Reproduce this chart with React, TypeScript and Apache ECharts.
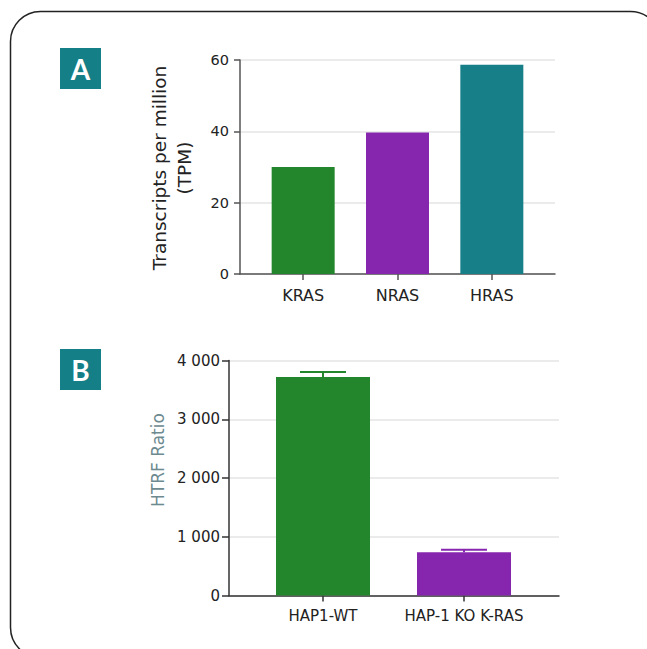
import React, { useEffect, useRef } from "react";
import * as echarts from "echarts";

const genesA = ["KRAS", "NRAS", "HRAS"];
const tpmA = [30.0, 39.7, 58.7];
const colorsA = ["#23862d", "#8626ae", "#167f87"];
const tpmTicks = { min: 0, max: 60, interval: 20 };

const cellsB = ["HAP1-WT", "HAP-1 KO K-RAS"];
const htrfB = [3720, 735];
const htrfErrB = [85, 45];
const colorsB = ["#23862d", "#8626ae"];
const htrfTicks = { min: 0, max: 4000, interval: 1000 };

const AXIS = "#555555";
const GRID = "#e4e4e4";
const FONT = "DejaVu Sans";

function fmtThousands(v: number): string {
  if (v < 1000) return String(v);
  const th = Math.floor(v / 1000);
  const rest = String(v % 1000).padStart(3, "0");
  return `${th} ${rest}`;
}

export default function App() {
  const ref = useRef<HTMLDivElement>(null);
  useEffect(() => {
    if (!ref.current) return;
    const chart = echarts.init(ref.current, undefined, { renderer: "svg" });
    const hiddenValueX = (gridIndex: number, color: string) => ({
      gridIndex,
      type: "value",
      min: 0,
      max: 1,
      axisLine: { show: true, onZero: true, lineStyle: { color, width: 1.5 } },
      axisTick: { show: false },
      axisLabel: { show: false },
      splitLine: { show: false },
    });
    const catX = (gridIndex: number, data: string[], size: number, margin: number, color: string) => ({
      gridIndex,
      type: "category",
      data,
      axisLine: { show: false },
      axisTick: { show: true, alignWithLabel: true, length: 6, lineStyle: { color, width: 1.5 } },
      axisLabel: { color: "#222", fontSize: size, fontFamily: FONT, margin, interval: 0 },
      splitLine: { show: false },
    });
    const labelBox = (letter: string, top: number) => ({
      type: "group",
      left: 60,
      top,
      children: [
        { type: "rect", shape: { x: 0, y: 0, width: 41, height: 41 }, style: { fill: "#147f86" } },
        {
          type: "text",
          x: 20.5,
          y: 21,
          style: {
            text: letter,
            fill: "#ffffff",
            fontSize: 28,
            fontWeight: "bold",
            fontFamily: "Lato",
            align: "center",
            verticalAlign: "middle",
          },
        },
      ],
    });
    const option: any = {
      animation: false,
      backgroundColor: "#ffffff",
      grid: [
        { left: 240, right: 92, top: 60, bottom: 375 },
        { left: 256, right: 108, top: 60, bottom: 375 },
        { left: 229, right: 88, top: 360.5, bottom: 53.5 },
        { left: 252.5, right: 112.5, top: 360.5, bottom: 53.5 },
      ],
      xAxis: [
        hiddenValueX(0, AXIS),
        catX(1, genesA, 16, 13, AXIS),
        hiddenValueX(2, "#333"),
        catX(3, cellsB, 15, 13, "#333"),
      ],
      yAxis: [
        {
          gridIndex: 0,
          type: "value",
          ...tpmTicks,
          axisLine: { show: true, lineStyle: { color: AXIS, width: 1.5 } },
          axisTick: { show: true, length: 6, lineStyle: { color: AXIS, width: 1.5 } },
          axisLabel: { color: "#222", fontSize: 14.5, fontFamily: FONT, margin: 11 },
          splitLine: { show: true, lineStyle: { color: GRID, width: 1.5 } },
        },
        { gridIndex: 1, type: "value", ...tpmTicks, show: false, splitLine: { show: false } },
        {
          gridIndex: 2,
          type: "value",
          ...htrfTicks,
          axisLine: { show: true, lineStyle: { color: "#333", width: 1.5 } },
          axisTick: { show: true, length: 7, lineStyle: { color: "#333", width: 1.5 } },
          axisLabel: {
            color: "#222",
            fontSize: 15,
            fontFamily: FONT,
            margin: 9,
            formatter: (v: number) => fmtThousands(v),
          },
          splitLine: { show: true, lineStyle: { color: GRID, width: 1.5 } },
        },
        { gridIndex: 3, type: "value", ...htrfTicks, show: false, splitLine: { show: false } },
      ],
      series: [
        {
          type: "bar",
          xAxisIndex: 1,
          yAxisIndex: 1,
          barWidth: 63,
          data: tpmA.map((v, i) => ({ value: v, itemStyle: { color: colorsA[i] } })),
        },
        {
          type: "bar",
          xAxisIndex: 3,
          yAxisIndex: 3,
          barWidth: 94,
          data: htrfB.map((v, i) => ({ value: v, itemStyle: { color: colorsB[i] } })),
        },
        {
          type: "custom",
          xAxisIndex: 3,
          yAxisIndex: 3,
          z: 5,
          data: htrfB.map((v, i) => [i, v, htrfErrB[i]]),
          renderItem: (params: any, api: any) => {
            const i = api.value(0);
            const m = api.value(1);
            const e = api.value(2);
            const top = api.coord([i, m + e]);
            const base = api.coord([i, m]);
            const half = 23;
            const color = colorsB[params.dataIndex];
            return {
              type: "group",
              children: [
                {
                  type: "line",
                  shape: { x1: top[0], y1: base[1], x2: top[0], y2: top[1] },
                  style: { stroke: color, lineWidth: 2 },
                },
                {
                  type: "line",
                  shape: { x1: top[0] - half, y1: top[1], x2: top[0] + half, y2: top[1] },
                  style: { stroke: color, lineWidth: 2 },
                },
              ],
            };
          },
        },
      ],
      graphic: [
        {
          type: "rect",
          shape: { x: 10.5, y: 11.5, width: 650, height: 646, r: 30 },
          style: { fill: "none", stroke: "#222", lineWidth: 1.5 },
          silent: true,
        },
        labelBox("A", 48),
        labelBox("B", 349),
        {
          type: "text",
          x: 172,
          y: 168,
          rotation: Math.PI / 2,
          style: {
            text: "Transcripts per million\n(TPM)",
            fill: "#222",
            fontSize: 18.5,
            fontFamily: FONT,
            lineHeight: 25,
            align: "center",
            verticalAlign: "middle",
          },
        },
        {
          type: "text",
          x: 158,
          y: 460,
          rotation: Math.PI / 2,
          style: {
            text: "HTRF Ratio",
            fill: "#6c8a8f",
            fontSize: 17,
            fontFamily: FONT,
            align: "center",
            verticalAlign: "middle",
          },
        },
      ],
    };
    chart.setOption(option);
    return () => chart.dispose();
  }, []);
  return (
    <div
      ref={ref}
      style={{ position: "fixed", left: 0, top: 0, width: 647, height: 649 }}
    />
  );
}
